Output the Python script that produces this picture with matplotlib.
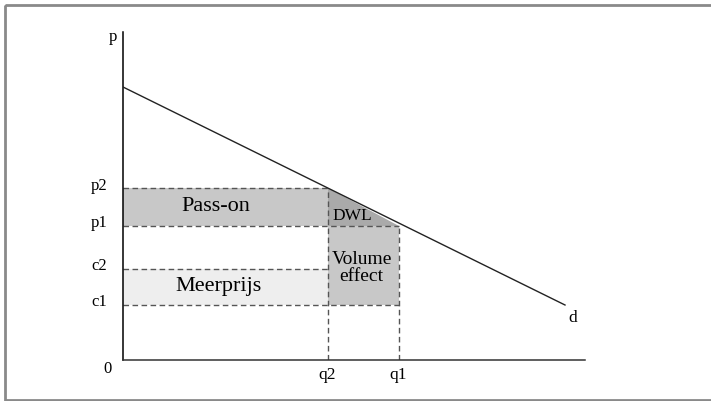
"""Pass-on / meerprijs diagram with demand curve, DWL and volume effect."""

import matplotlib

matplotlib.use("Agg")
import matplotlib.pyplot as plt
from matplotlib.patches import Polygon, Rectangle

# quantities and prices (arbitrary units)
Q_LABELS = ["q2", "q1"]
Q_VALUES = [4.09, 5.51]
P_LABELS = ["p2", "p1", "c2", "c1"]
P_VALUES = [3.44, 2.69, 1.82, 1.10]
DEMAND_Q = [0.0, 8.84]
DEMAND_P = [5.46, 1.10]
X_MAX = 9.24
Y_MAX = 6.56

plt.rcParams.update({"font.family": ["Liberation Serif", "DejaVu Serif"]})

W, H = 711, 401
fig = plt.figure(figsize=(W / 100, H / 100), dpi=100)

# outer frame
frame = fig.add_axes([0, 0, 1, 1])
frame.set_axis_off()
frame.set_xlim(0, W)
frame.set_ylim(H, 0)
frame.add_patch(Rectangle((4.5, 4.5), W + 10, 395.5, fill=False, edgecolor="#8a8a8a", linewidth=2))

ax = fig.add_axes([123 / W, (H - 360) / H, (585 - 123) / W, (360 - 32) / H])
ax.patch.set_alpha(0)
ax.set_xlim(0, X_MAX)
ax.set_ylim(0, Y_MAX)
ax.set_xticks([])
ax.set_yticks([])
for side in ("top", "right"):
    ax.spines[side].set_visible(False)
ax.spines["left"].set_linewidth(1.1)
ax.spines["bottom"].set_linewidth(1.1)
ax.spines["bottom"].set_color("#333333")

q2, q1 = Q_VALUES
p2, p1, c2, c1 = P_VALUES

fill_mid = "#c8c8c8"
ax.add_patch(Rectangle((0, p1), q2, p2 - p1, facecolor=fill_mid, edgecolor="none", zorder=1))
ax.add_patch(Rectangle((0, c1), q2, c2 - c1, facecolor="#eeeeee", edgecolor="none", zorder=1))
ax.add_patch(Rectangle((q2, c1), q1 - q2, p1 - c1, facecolor=fill_mid, edgecolor="none", zorder=1))
ax.add_patch(Polygon([(q2, p2), (q2, p1), (q1, p1)], closed=True, facecolor="#aaaaaa", edgecolor="none", zorder=1))

dash = dict(color="#555555", linewidth=1.0, linestyle=(0, (4, 2.5)), zorder=2)
ax.plot([0, q2], [p2, p2], **dash)
ax.plot([0, q1], [p1, p1], **dash)
ax.plot([0, q2], [c2, c2], **dash)
ax.plot([0, q1], [c1, c1], **dash)
ax.plot([q2, q2], [0, p2], **dash)
ax.plot([q1, q1], [0, p1], **dash)

ax.plot(DEMAND_Q, DEMAND_P, color="#222222", linewidth=1.0, zorder=3)

for label, value in zip(P_LABELS, P_VALUES):
    ax.text(-0.32, value + 0.05, label, ha="right", va="center", fontsize=12, clip_on=False)
for label, value in zip(Q_LABELS, Q_VALUES):
    ax.text(value, -0.3, label, ha="center", va="center", fontsize=12.5, clip_on=False)

ax.text(-0.2, 6.46, "p", ha="center", va="center", fontsize=12, clip_on=False)
ax.text(-0.32, -0.18, "0", ha="center", va="center", fontsize=12, clip_on=False)
ax.text(8.99, 0.84, "d", ha="center", va="center", fontsize=12.5)

ax.text(1.85, (p1 + p2) / 2, "Pass-on", ha="center", va="center", fontsize=16, zorder=4)
ax.text(1.92, (c1 + c2) / 2, "Meerprijs", ha="center", va="center", fontsize=16, zorder=4)
ax.text(4.58, 2.88, "DWL", ha="center", va="center", fontsize=12.5, zorder=4)
ax.text(4.77, 1.84, "Volume\neffect", ha="center", va="center", fontsize=14,
        linespacing=1.0, zorder=4)

fig.savefig("out.png", dpi=100)
